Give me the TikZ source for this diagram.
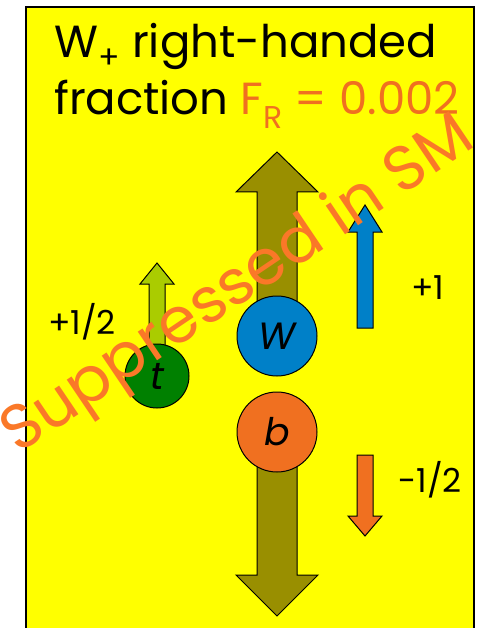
\documentclass[tikz,border=0pt]{standalone}
\usepackage{fontspec}
\setmainfont{Poppins}
\definecolor{bgyellow}{RGB}{255,255,0}
\definecolor{olive}{RGB}{153,143,0}
\definecolor{wblue}{RGB}{0,128,200}
\definecolor{borange}{RGB}{240,112,32}
\definecolor{tgreen}{RGB}{0,128,0}
\definecolor{lgreen}{RGB}{170,204,0}
\definecolor{wmark}{RGB}{250,120,40}
\tikzset{
  blockarrow/.style={draw=black, line width=1pt, line join=miter},
  particle/.style={circle, draw=black, line width=1pt, inner sep=0pt, font=\fontsize{38}{38}\selectfont\itshape},
  spinlabel/.style={font=\fontsize{33}{33}\selectfont, inner sep=0pt},
}
\begin{document}
\begin{tikzpicture}[x=1pt,y=-1pt]
\useasboundingbox (0,0) rectangle (479,628);
\fill[white] (0,0) rectangle (479,628);
\fill[bgyellow] (26,7) rectangle (474,640);
\draw[line width=1.5pt] (26,640) -- (26,7) -- (474,7) -- (474,640);
% title
\node[anchor=base west, inner sep=0pt, font=\fontsize{45}{45}\selectfont] (title1) at (54,58) {W\textsubscript{+} right-handed};
\node[anchor=base west, inner sep=0pt, font=\fontsize{45}{45}\selectfont] (title2) at (54,115) {fraction \textcolor{borange}{F\textsubscript{R} = 0.002}};
% big olive arrow up
\filldraw[blockarrow, fill=olive] (257,336) -- (257,192) -- (236,192) -- (277,152) -- (318,192) -- (297,192) -- (297,336) -- cycle;
% big olive arrow down
\filldraw[blockarrow, fill=olive] (257,432) -- (257,575) -- (236,575) -- (277,616) -- (318,575) -- (297,575) -- (297,432) -- cycle;
% particles
\node[particle, fill=wblue, minimum size=80pt] (W) at (277,336) {W};
\node[particle, fill=borange, minimum size=80pt] (b) at (277,432) {b};
% t arrow
\filldraw[blockarrow, fill=lgreen] (149,360) -- (149,284) -- (140,284) -- (157,263) -- (174,284) -- (165,284) -- (165,360) -- cycle;
\node[particle, fill=tgreen, minimum size=64pt] (t) at (157,376) {t};
% blue spin arrow
\filldraw[blockarrow, fill=wblue] (357,328) -- (357,232) -- (348,232) -- (365,205) -- (382,232) -- (373,232) -- (373,328) -- cycle;
% orange spin arrow
\filldraw[blockarrow, fill=borange] (357,455) -- (357,516) -- (348,516) -- (365,536) -- (382,516) -- (373,516) -- (373,455) -- cycle;
% labels
\node[spinlabel] (lt) at (82,322) {+1/2};
\node[spinlabel] (lw) at (428,288) {+1};
\node[spinlabel] (lb) at (430,480) {-1/2};
% watermark
\node[rotate=34, text=wmark, inner sep=0pt, font=\fontsize{63}{63}\selectfont] (wm) at (239,287) {Suppressed in SM};
\end{tikzpicture}
\end{document}
